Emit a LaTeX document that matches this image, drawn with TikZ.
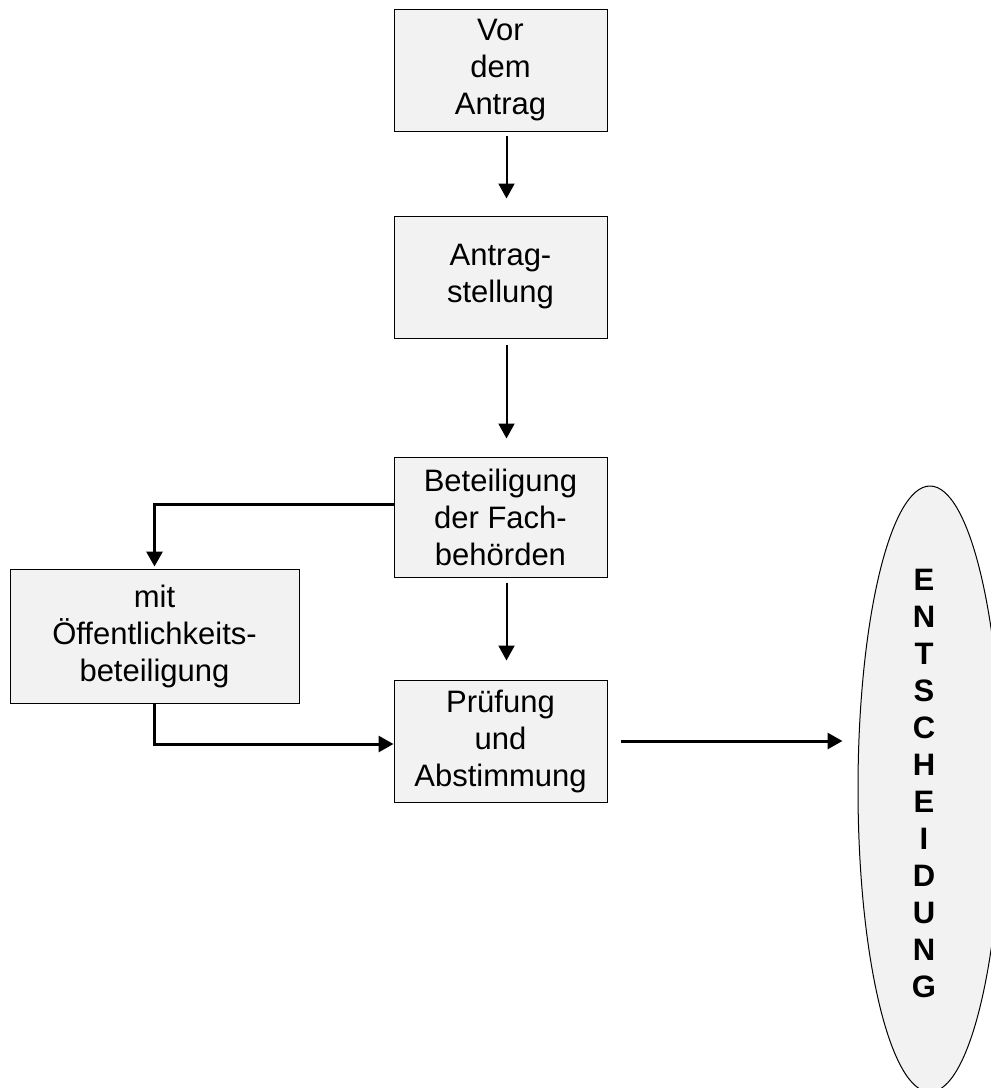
\documentclass[tikz,border=0pt]{standalone}
\usepackage{fontspec}
\setmainfont{Liberation Sans}
\usetikzlibrary{arrows.meta,shapes.geometric}
\definecolor{boxgray}{RGB}{242,242,242}

\begin{document}
\begin{tikzpicture}[x=1pt, y=-1pt,
	box/.style={draw, line width=1pt, fill=boxgray, inner sep=0pt, align=center,
		font=\fontsize{31}{37}\selectfont},
	thinarrow/.style={line width=2pt, -{Triangle[length=15pt,width=16pt]}},
	thickarrow/.style={line width=3pt, -{Triangle[length=15pt,width=16pt]}}]
\useasboundingbox (0,0) rectangle (991,1088);
\clip (0,0) rectangle (991,1088);

	\node [box, minimum width=213pt, minimum height=122pt] (vor) at (500.5,70) {Vor\\dem\\Antrag};
	\node [box, minimum width=213pt, minimum height=122pt] (antrag) at (500.5,277) {Antrag-\\stellung};
	\node [box, minimum width=213pt, minimum height=120pt] (beteil) at (500.5,517) {Beteiligung\\der Fach-\\behörden};
	\node [box, minimum width=289pt, minimum height=134pt] (oeff) at (154.5,636) {mit\\Öffentlichkeits-\\beteiligung};
	\node [box, minimum width=213pt, minimum height=122pt] (pruef) at (500.5,741) {Prüfung\\und\\Abstimmung};

	\node [draw, line width=1pt, fill=boxgray, ellipse, inner sep=0pt,
		minimum width=144pt, minimum height=606pt] (entsch) at (930,789) {};
	\node [align=center, inner sep=0pt, font=\fontsize{31}{37}\selectfont\bfseries] (entschtext) at (924,783)
		{E\\N\\T\\S\\C\\H\\E\\I\\D\\U\\N\\G};

	\draw [thinarrow, shorten <=4pt, shorten >=17pt] ([xshift=6pt]vor.south) -- ([xshift=6pt]antrag.north);
	\draw [thinarrow, shorten <=6pt, shorten >=18pt] ([xshift=6pt]antrag.south) -- ([xshift=6pt]beteil.north);
	\draw [thinarrow, shorten <=5pt, shorten >=19pt] ([xshift=6pt]beteil.south) -- ([xshift=6pt]pruef.north);

	\draw [thickarrow, shorten >=2pt] ([yshift=13pt]beteil.west) -| (oeff.north);
	\draw [thickarrow] (oeff.south) |- ([yshift=-3pt]pruef.west);
	\draw [thickarrow, shorten <=13pt, shorten >=15pt] (pruef.east) -- (pruef.east -| entsch.west);
\end{tikzpicture}
\end{document}
